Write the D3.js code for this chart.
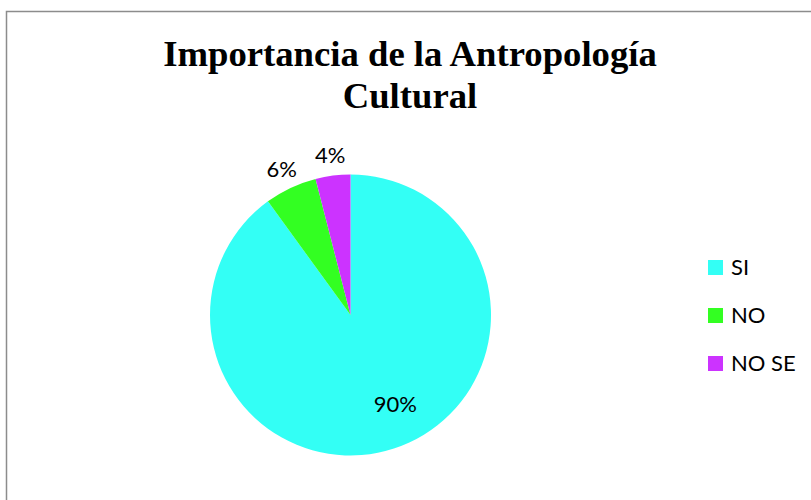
<!DOCTYPE html>
<html>
<head>
<meta charset="utf-8">
<script src="https://cdn.jsdelivr.net/npm/d3@7"></script>
<style>
  html, body { margin: 0; padding: 0; background: #fff; }
  svg { display: block; }
</style>
</head>
<body>
<svg id="chart" width="811" height="500"></svg>
<script>
const titleLines = ["Importancia de la Antropología", "Cultural"];
const categories = ["SI", "NO", "NO SE"];
const values = [90, 6, 4];
const colors = ["#33FFF5", "#33FF22", "#CC33FF"];

const svg = d3.select("#chart");
const W = 811, H = 500;

// outer chart border
svg.append("rect")
  .attr("x", 6.5).attr("y", 11.5)
  .attr("width", W + 10).attr("height", H + 10)
  .attr("fill", "#fff").attr("stroke", "#8c8c8c").attr("stroke-width", 1.5);

// title
const title = svg.append("text")
  .attr("text-anchor", "middle")
  .attr("font-family", "'Liberation Serif', 'Times New Roman', serif")
  .attr("font-weight", "bold")
  .attr("font-size", 36.7)
  .attr("fill", "#000");
titleLines.forEach((t, i) => {
  title.append("tspan").attr("x", 410).attr("y", 66 + i * 41.5).text(t);
});

// pie
const cx = 350.5, cy = 315, r = 140.5;
const data = categories.map((c, i) => ({ cat: c, val: values[i], color: colors[i] }));
const pie = d3.pie().value(d => d.val).sort(null);
const arcs = pie(data);
const arc = d3.arc().innerRadius(0).outerRadius(r);

const g = svg.append("g").attr("transform", `translate(${cx},${cy})`);
g.selectAll("path").data(arcs).join("path")
  .attr("d", arc)
  .attr("fill", d => d.data.color);

// labels
const total = d3.sum(values);
const fmt = v => Math.round(v / total * 100) + "%";
g.selectAll("text.lbl").data(arcs).join("text")
  .attr("class", "lbl")
  .attr("text-anchor", "middle")
  .attr("font-family", "Lato, 'Open Sans', sans-serif")
  .attr("font-size", 22)
  .attr("fill", "#000")
  .attr("transform", d => {
    const mid = (d.startAngle + d.endAngle) / 2;
    let a, dist;
    if (d.endAngle - d.startAngle > Math.PI) {
      a = mid - 0.15; dist = 100;
    } else {
      a = mid; dist = r + 21;
    }
    const x = Math.sin(a) * dist, y = -Math.cos(a) * dist;
    return `translate(${x},${y + 8})`;
  })
  .text(d => fmt(d.data.val));

// legend
const leg = svg.append("g").attr("transform", "translate(708,260)");
const items = leg.selectAll("g").data(data).join("g")
  .attr("transform", (d, i) => `translate(0,${i * 48})`);
items.append("rect")
  .attr("width", 15).attr("height", 15)
  .attr("fill", d => d.color);
items.append("text")
  .attr("x", 23).attr("y", 15)
  .attr("font-family", "Lato, 'Open Sans', sans-serif")
  .attr("font-size", 22)
  .attr("fill", "#000")
  .text(d => d.cat);
</script>
</body>
</html>
